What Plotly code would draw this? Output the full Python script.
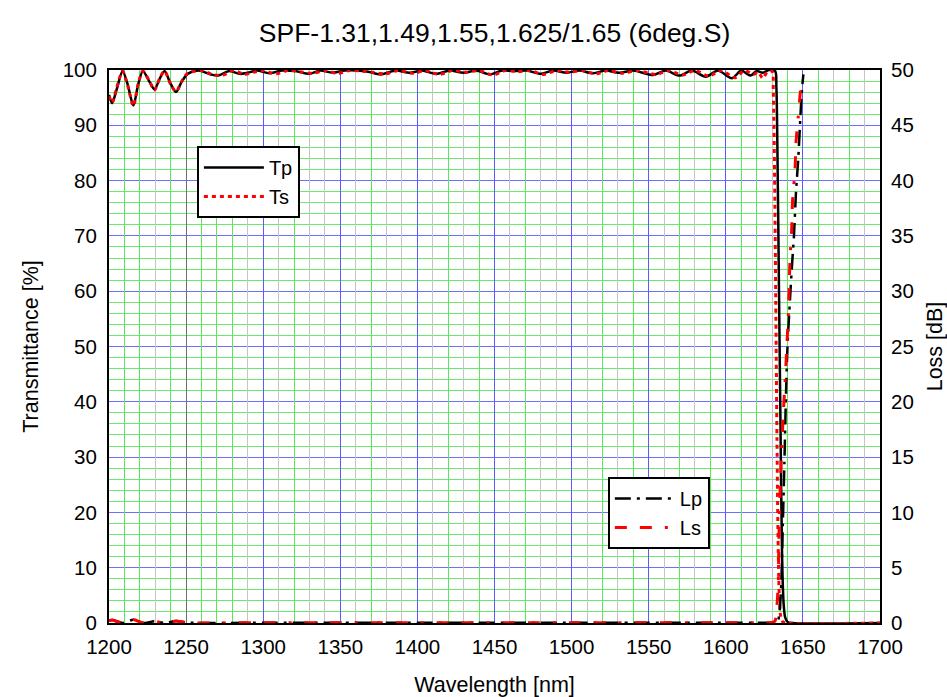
import plotly.graph_objects as go

# ---------------- data ----------------
tp_wl = [1200, 1202, 1205, 1208.8, 1212, 1215.8, 1219, 1222, 1226, 1229.5, 1233, 1236, 1240, 1243.5,
         1247, 1251, 1258, 1266, 1271, 1278, 1285, 1290, 1296, 1304, 1312, 1321, 1330, 1337, 1345,
         1353, 1361, 1368, 1376, 1386, 1395, 1403, 1412, 1421, 1430, 1438, 1447, 1455, 1463, 1471,
         1480, 1488, 1497, 1505, 1514, 1522, 1531, 1540, 1553, 1561, 1570, 1578, 1587, 1595, 1604,
         1610, 1616, 1620, 1624, 1628, 1632.0, 1632.8, 1633.5, 1634.5, 1635.5, 1636.5, 1637.5,
         1638.5, 1640, 1643, 1700]
tp_val = [95.5, 94.0, 96.5, 99.8, 97.5, 93.6, 97.5, 99.8, 98, 96.5, 98.5, 99.8, 97.5, 96,
          97.8, 99.3, 99.9, 99.2, 99.0, 99.8, 99.3, 99.5, 99.9, 99.4, 99.9, 99.8, 99.3, 99.9, 99.5,
          99.9, 99.9, 99.7, 99.2, 99.9, 99.5, 99.9, 99.3, 99.9, 99.5, 99.9, 99.2, 99.9, 99.8, 99.9,
          99.3, 99.9, 99.5, 99.9, 99.4, 99.9, 99.5, 99.9, 99.1, 99.9, 99.0, 99.9, 98.8, 99.9, 98.5,
          99.9, 99.0, 99.8, 99.5, 100, 99.8, 97, 85, 60, 35, 12, 3.5,
          1, 0.2, 0, 0]

ts_wl = [1200, 1202, 1205, 1208.8, 1212, 1215.8, 1219, 1222, 1226, 1229.5, 1233, 1236, 1240, 1243.5,
         1247, 1251, 1260, 1268, 1274, 1281, 1288, 1294, 1300, 1308, 1316, 1324, 1332, 1340, 1348,
         1356, 1364, 1371, 1379, 1388, 1397, 1405, 1414, 1423, 1432, 1440, 1449, 1457, 1465, 1473,
         1482, 1490, 1499, 1507, 1516, 1524, 1533, 1542, 1555, 1563, 1572, 1580, 1589, 1597, 1606,
         1612, 1618, 1621, 1624, 1627, 1630.0, 1630.8, 1631.6, 1632.4, 1633.2, 1634.0, 1634.8,
         1635.6, 1637, 1640, 1700]
ts_val = [95.3, 94.1, 96.8, 99.8, 97.3, 93.5, 97.6, 99.8, 98.1, 96.4, 98.6, 99.8, 97.4, 96.1,
          97.9, 99.4, 99.9, 99.1, 99.1, 99.9, 99.2, 99.6, 99.9, 99.3, 99.9, 99.7, 99.4, 99.9, 99.4,
          99.9, 99.8, 99.6, 99.3, 99.9, 99.4, 99.9, 99.2, 99.9, 99.6, 99.9, 99.1, 99.9, 99.7, 99.9,
          99.2, 99.9, 99.6, 99.9, 99.3, 99.9, 99.4, 99.9, 99.2, 99.9, 99.1, 99.9, 98.9, 99.9, 98.6,
          99.9, 99.2, 99.6, 98.5, 99.7, 99.8, 96, 82, 58, 33, 13, 4,
          1.2, 0.2, 0, 0]

lp_wl = [1200, 1202, 1208.8, 1215.8, 1222, 1229.5, 1236, 1243.5, 1251, 1300, 1400, 1500, 1600,
         1625, 1632, 1634, 1635, 1636, 1637, 1638, 1639, 1640, 1641.6, 1643, 1644.2, 1645.5, 1647,
         1648.1, 1649.2, 1650.3]
lp_val = [0.2, 0.28, 0.0, 0.3, 0.0, 0.15, 0.0, 0.18, 0.03, 0.02, 0.02, 0.02, 0.03,
          0.03, 0.05, 0.3, 1.2, 3.6, 9, 14.5, 20.5, 25, 29.2, 32.5, 35, 38.9, 42,
          45, 47.9, 49.6]

ls_wl = [1200, 1202, 1208.8, 1215.8, 1222, 1229.5, 1236, 1243.5, 1251, 1300, 1400, 1500, 1600,
         1625, 1630, 1632, 1633, 1634, 1634.7, 1636.2, 1637.5, 1638.4, 1640.5, 1641.7, 1642.7,
         1643.3, 1644.9, 1645.5, 1647, 1648.5]
ls_val = [0.21, 0.27, 0.0, 0.31, 0.0, 0.16, 0.0, 0.17, 0.03, 0.02, 0.02, 0.02, 0.03,
          0.03, 0.05, 0.2, 1.2, 3.6, 9.6, 15.6, 19.5, 21.7, 27.7, 33.1, 35.5,
          38.2, 41, 43.4, 45.8, 48.3]

x_ticks = [1200, 1250, 1300, 1350, 1400, 1450, 1500, 1550, 1600, 1650, 1700]
x_grid_green = [1210, 1220, 1240, 1260, 1270, 1280, 1320, 1370, 1420, 1440, 1470, 1520, 1540,
                1570, 1590, 1610, 1620, 1640, 1660, 1680]
x_grid_gray = [1230, 1290, 1310, 1330, 1340, 1360, 1380, 1390, 1410, 1430, 1460, 1480, 1490,
               1510, 1530, 1560, 1580, 1630, 1670, 1690]
x_grid_blue = [1300, 1350, 1400, 1450, 1500, 1550, 1600, 1650]
x_grid_dark = [1250]

FONT = "Arial, Liberation Sans, sans-serif"
XR = [1200, 1700]

fig = go.Figure()
fig.add_trace(go.Scatter(x=tp_wl, y=tp_val, name="Tp", mode="lines",
                         line=dict(color="black", width=2.5, shape="spline", smoothing=0.8),
                         legend="legend"))
fig.add_trace(go.Scatter(x=ts_wl, y=ts_val, name="Ts", mode="lines",
                         line=dict(color="#ff0000", width=3, dash="4px,4px", shape="spline",
                                   smoothing=0.8),
                         legend="legend"))
fig.add_trace(go.Scatter(x=lp_wl, y=lp_val, name="Lp", mode="lines", yaxis="y2",
                         line=dict(color="black", width=2.5, dash="16px,6px,3px,6px",
                                   shape="spline", smoothing=0.6),
                         legend="legend2"))
fig.add_trace(go.Scatter(x=ls_wl, y=ls_val, name="Ls", mode="lines", yaxis="y2",
                         line=dict(color="#ff0000", width=3, dash="12px,13px,12px,13px,3px,13px",
                                   shape="spline", smoothing=0.6),
                         legend="legend2"))

# grid-only overlay axes (empty traces just to attach them)
grid_sets = [("x3", x_grid_gray, "#c4c4c4"), ("x4", x_grid_green, "#5ce85c"),
             ("x5", x_grid_blue, "#5a5aff"), ("x6", x_grid_dark, "#707070")]
for ax, _, _ in grid_sets:
    fig.add_trace(go.Scatter(x=[], y=[], xaxis=ax, showlegend=False, hoverinfo="skip"))

fig.update_layout(
    width=947, height=697,
    margin=dict(l=109, r=67, t=70, b=74),
    paper_bgcolor="white", plot_bgcolor="white",
    font=dict(family=FONT, size=20, color="black"),
    title=dict(text="SPF-1.31,1.49,1.55,1.625/1.65 (6deg.S)", x=0.5, xref="paper",
               y=1 - 33 / 697, yref="container", yanchor="middle", xanchor="center",
               font=dict(size=26.5)),
    showlegend=True,
    xaxis=dict(range=XR, tickvals=x_ticks, showgrid=False, zeroline=False, automargin=False,
               showline=True, linecolor="black", linewidth=2, mirror=True,
               ticks="", ticklabelstandoff=4, tickfont=dict(size=20.5),
               title=dict(text="Wavelength [nm]", standoff=27, font=dict(size=21.5))),
    yaxis=dict(range=[0, 100], dtick=10, showgrid=True, gridcolor="#6f6fff", gridwidth=1,
               minor=dict(dtick=2, showgrid=True, gridcolor="#6ee86e", gridwidth=1),
               zeroline=False, showline=True, linecolor="black", linewidth=2, mirror=True,
               ticks="", ticklabelstandoff=6, automargin=False, tickfont=dict(size=20.5),
               title=dict(text="Transmittance [%]", standoff=18, font=dict(size=21.5))),
    yaxis2=dict(range=[0, 50], dtick=5, overlaying="y", side="right", showgrid=False,
                zeroline=False, showline=False, ticks="", ticklabelstandoff=10,
                automargin=False, tickfont=dict(size=20.5),
                title=dict(text="Loss [dB]", standoff=14, font=dict(size=21.5))),
    legend=dict(x=0.114, y=0.8626, xanchor="left", yanchor="top", bgcolor="white",
                bordercolor="black", borderwidth=2, font=dict(size=20), itemwidth=60,
                tracegroupgap=0),
    legend2=dict(x=0.647, y=0.264, xanchor="left", yanchor="top", bgcolor="white",
                 bordercolor="black", borderwidth=2, font=dict(size=20), itemwidth=60,
                 tracegroupgap=0),
)
for ax, vals, col in grid_sets:
    fig.update_layout({
        "xaxis" + ax[1:]: dict(range=XR, overlaying="x", anchor="y", tickvals=vals,
                               showticklabels=False, ticks="", showgrid=True, gridcolor=col,
                               gridwidth=1, zeroline=False, showline=False, automargin=False)
    })

fig.write_html("out.html")
